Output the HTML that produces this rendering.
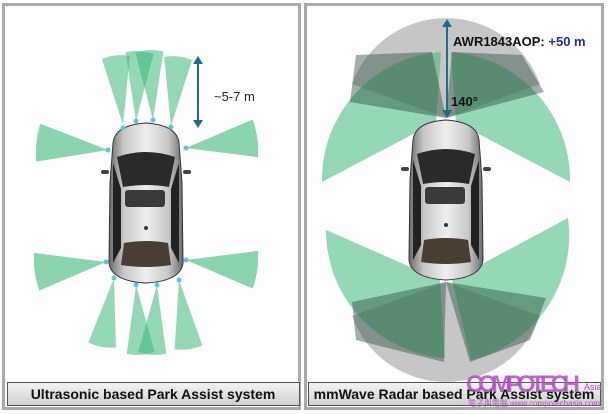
<!DOCTYPE html>
<html><head><meta charset="utf-8"><style>
html,body{margin:0;padding:0;background:#fff;}
svg{display:block}
text{font-family:"Liberation Sans",Arial,sans-serif;}
</style></head><body>
<svg width="608" height="414" viewBox="0 0 608 414" xmlns="http://www.w3.org/2000/svg">
<defs>
<linearGradient id="body" x1="0" x2="1" y1="0" y2="0">
<stop offset="0" stop-color="#6a6a6a"/><stop offset="0.2" stop-color="#c8c8c8"/><stop offset="0.5" stop-color="#eeeeee"/><stop offset="0.8" stop-color="#c8c8c8"/><stop offset="1" stop-color="#6a6a6a"/></linearGradient>
<linearGradient id="cap" x1="0" x2="0" y1="0" y2="1"><stop offset="0" stop-color="#f4f4f4"/><stop offset="1" stop-color="#cfcfcf"/></linearGradient>
<g id="car">
<path d="M6,20 Q8,2 39,0 Q70,2 72,20 L75,60 L76,140 Q74,158 39,160 Q4,158 2,140 L3,60 Z" fill="url(#body)" stroke="#333" stroke-width="1"/>
<rect x="-6" y="47" width="8" height="4" rx="2" fill="#444"/>
<rect x="76" y="47" width="8" height="4" rx="2" fill="#444"/>
<path d="M10,34 Q39,24 68,34 L62,64 Q39,60 16,64 Z" fill="#2a2a2a"/>
<path d="M6,40 L14,66 L14,125 L6,140 Z" fill="#222"/>
<path d="M72,40 L64,66 L64,125 L72,140 Z" fill="#222"/>
<rect x="18" y="67" width="40" height="17" rx="3" fill="#3a3a3a"/>
<path d="M17,120 Q39,116 61,120 L64,142 Q39,146 14,142 Z" fill="#4a3e33"/>
<circle cx="39" cy="105" r="2" fill="#333"/>
</g>
<path id="cone" d="M0,0 L-14,-68 Q0,-72 14,-68 Z" fill="#3cb878" fill-opacity="0.55"/>
<path id="scone" d="M0,0 L-19,-70 Q0,-74 19,-70 Z" fill="#3cb878" fill-opacity="0.6"/>
</defs>
<rect width="608" height="414" fill="#fff"/>
<rect x="3.5" y="4.5" width="296" height="404" fill="#fff" stroke="#aaa" stroke-width="3"/>
<rect x="305.5" y="4.5" width="297" height="404" fill="#fff" stroke="#aaa" stroke-width="3"/>

<g>
<use href="#cone" transform="translate(123,125) rotate(-6)"/>
<use href="#cone" transform="translate(136,121) rotate(3)"/>
<use href="#cone" transform="translate(153,120) rotate(-3)"/>
<use href="#cone" transform="translate(171,126) rotate(6)"/>
<use href="#scone" transform="translate(108,150) rotate(-84)"/>
<use href="#scone" transform="translate(186,148) rotate(82)"/>
<use href="#scone" transform="translate(106,262) rotate(-98)"/>
<use href="#scone" transform="translate(186,260) rotate(98)"/>
<use href="#cone" transform="translate(114,278) rotate(-170)"/>
<use href="#cone" transform="translate(136,285) rotate(176)"/>
<use href="#cone" transform="translate(157,285) rotate(184)"/>
<use href="#cone" transform="translate(179,280) rotate(172)"/>
</g>
<use href="#car" transform="translate(107,123)"/>
<g fill="#5cc6e0">
<circle cx="123" cy="128" r="2.5"/><circle cx="136" cy="121" r="2.5"/><circle cx="153" cy="120" r="2.5"/><circle cx="171" cy="127" r="2.5"/>
<circle cx="108" cy="150" r="2.5"/><circle cx="186" cy="148" r="2.5"/><circle cx="106" cy="262" r="2.5"/><circle cx="186" cy="260" r="2.5"/>
<circle cx="114" cy="278" r="2.5"/><circle cx="136" cy="285" r="2.5"/><circle cx="157" cy="285" r="2.5"/><circle cx="179" cy="280" r="2.5"/>
</g>
<line x1="198" y1="62" x2="198" y2="122" stroke="#1f6e86" stroke-width="2"/>
<path d="M193,64 L198,56 L203,64 Z M193,120 L198,128 L203,120 Z" fill="#1f6e86"/>
<text x="214" y="101" font-size="13" fill="#222">~5-7 m</text>

<g>
<path d="M446,118 L352,84 A100,100 0 0 1 540,84 Z" fill="#8e8e8e" fill-opacity="0.5"/>
<path d="M446,282 L352,316 A100,100 0 0 0 540,316 Z" fill="#8e8e8e" fill-opacity="0.5"/>
<path d="M436,122 L322,182 A128,128 0 0 1 441,52 Z" fill="#3cb878" fill-opacity="0.55"/>
<path d="M456,122 L570,182 A128,128 0 0 0 451,52 Z" fill="#3cb878" fill-opacity="0.55"/>
<path d="M440,280 L326,230 A128,128 0 0 0 445,358 Z" fill="#3cb878" fill-opacity="0.55"/>
<path d="M452,280 L568,218 A128,128 0 0 1 471,360 Z" fill="#3cb878" fill-opacity="0.55"/>
<path d="M446,118 L350,102 L356,55 L432,52 Z" fill="#2f4f3f" fill-opacity="0.45"/>
<path d="M446,118 L544,92 L522,55 L452,52 Z" fill="#2f4f3f" fill-opacity="0.45"/>
<path d="M446,282 L352,302 L356,340 L444,362 Z" fill="#2f4f3f" fill-opacity="0.45"/>
<path d="M446,282 L546,298 L530,340 L470,362 Z" fill="#2f4f3f" fill-opacity="0.45"/>
</g>
<use href="#car" transform="translate(407,120)"/>
<line x1="447" y1="25" x2="447" y2="112" stroke="#1f6e86" stroke-width="2"/>
<path d="M442,27 L447,19 L452,27 Z M442,110 L447,118 L452,110 Z" fill="#1f6e86"/>
<text x="453" y="46" font-size="13" font-weight="bold" fill="#111">AWR1843AOP: <tspan fill="#1a2fa0">+50 m</tspan></text>
<text x="451" y="106" font-size="13" font-weight="bold" fill="#111">140°</text>

<rect x="7.5" y="382.5" width="292" height="23" fill="url(#cap)" stroke="#555"/>
<text x="153" y="399" font-size="14" font-weight="bold" text-anchor="middle" fill="#111">Ultrasonic based Park Assist system</text>
<rect x="308.5" y="382.5" width="292" height="23" fill="url(#cap)" stroke="#555"/>
<text x="454" y="399" font-size="14" font-weight="bold" text-anchor="middle" fill="#111">mmWave Radar based Park Assist system</text>
<text x="466" y="392" font-size="24" font-weight="bold" fill="#b04fc0" fill-opacity="0.85" textLength="114">COMPOTECH</text>
<text x="584" y="390" font-size="9" fill="#b04fc0">Asia</text>
<text x="468" y="406" font-size="8" fill="#b04fc0" textLength="132">電子與電腦 www.compotechasia.com</text>
</svg>
</body></html>
